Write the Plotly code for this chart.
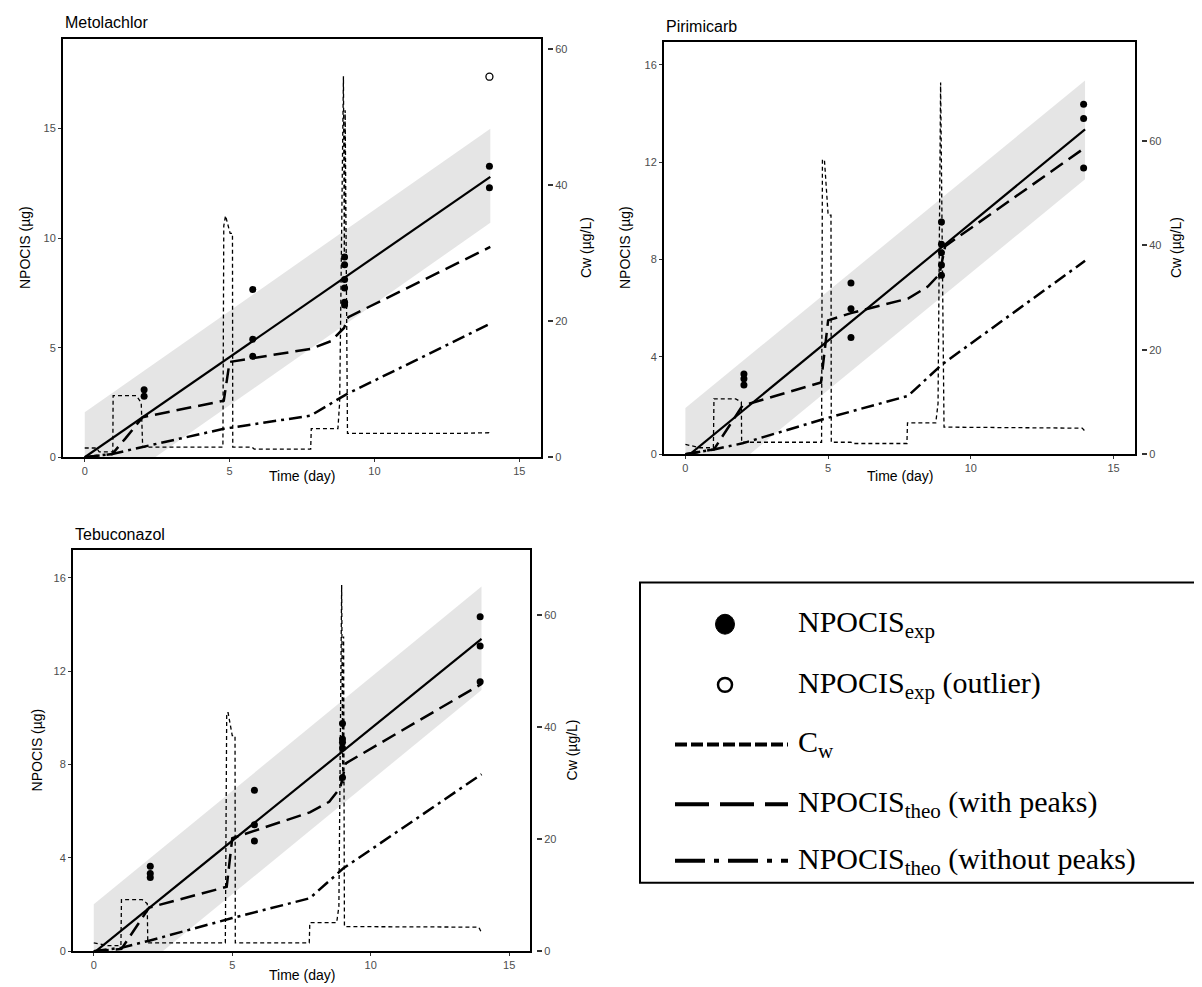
import plotly.graph_objects as go

W, H = 1202, 987

# ---------------- data ----------------
panel_names = ["Metolachlor", "Pirimicarb", "Tebuconazol"]

# Metolachlor
met_exp_t = [2.05, 2.05, 5.8, 5.8, 5.8, 8.97, 8.97, 8.97, 8.97, 8.97, 8.97, 13.97, 13.97]
met_exp_y = [3.08, 2.79, 7.66, 5.39, 4.61, 9.14, 8.79, 8.11, 7.73, 7.08, 6.95, 13.28, 12.30]
met_out_t = [13.97]
met_out_y = [17.37]
met_fit_t = [0, 14]
met_fit_y = [0.0, 12.8]
met_band_lo = [-2.25, 10.7]
met_band_hi = [2.05, 15.0]
met_peak_t = [0, 0.95, 1.4, 2.0, 4.8, 5.0, 7.8, 8.5, 8.95, 9.1, 14]
met_peak_y = [0, 0.15, 0.85, 1.83, 2.58, 4.35, 4.95, 5.3, 5.9, 6.4, 9.6]
met_nopeak_t = [0, 0.95, 2.0, 4.8, 7.8, 9.0, 14]
met_nopeak_y = [0, 0.15, 0.47, 1.3, 1.9, 2.85, 6.1]
met_cw_t = [0, 0.4, 0.5, 0.97, 0.98, 1.78, 1.95, 2.0, 4.77, 4.8, 4.86, 5.02, 5.1, 5.11, 5.77, 5.85,
            7.8, 7.82, 8.74, 8.8, 8.93, 8.96, 8.99, 9.07, 12.7, 13.95, 14.0]
met_cw_y = [1.36, 1.36, 0.8, 0.8, 9.05, 9.05, 8.0, 1.5, 1.5, 34.0, 35.5, 32.9, 32.9, 1.5, 1.5, 1.2,
            1.2, 4.2, 4.2, 8.1, 56.0, 30.0, 51.0, 3.5, 3.5, 3.6, 3.2]

# Pirimicarb
pir_exp_t = [2.05, 2.05, 2.05, 5.8, 5.8, 5.8, 8.97, 8.97, 8.97, 8.97, 8.97, 13.95, 13.95, 13.95]
pir_exp_y = [3.3, 3.1, 2.85, 7.04, 5.98, 4.8, 9.54, 8.63, 8.28, 7.78, 7.36, 14.38, 13.8, 11.76]
pir_out_t = []
pir_out_y = []
pir_fit_t = [0, 14]
pir_fit_y = [-0.15, 13.35]
pir_band_lo = [-2.17, 11.3]
pir_band_hi = [1.9, 15.36]
pir_peak_t = [0, 1.0, 2.0, 4.75, 5.0, 5.8, 7.8, 8.5, 8.9, 9.1, 14]
pir_peak_y = [0, 0.2, 2.0, 2.95, 5.5, 5.8, 6.4, 6.9, 7.4, 8.55, 12.6]
pir_nopeak_t = [0, 1.0, 2.0, 5.0, 7.8, 9.0, 14]
pir_nopeak_y = [0, 0.2, 0.45, 1.5, 2.4, 3.7, 7.95]
pir_cw_t = [0, 0.5, 0.98, 1.0, 1.76, 1.96, 1.97, 4.77, 4.8, 4.87, 5.0, 5.1, 5.11, 5.8, 5.85,
            7.76, 7.78, 8.77, 8.85, 8.94, 9.06, 13.9, 14.0]
pir_cw_y = [1.9, 1.25, 1.25, 10.6, 10.6, 10.0, 2.3, 2.3, 56.4, 56.4, 45.8, 45.8, 2.3, 2.3, 2.06,
            2.06, 6.0, 6.0, 9.7, 71.2, 5.2, 5.0, 4.4]

# Tebuconazol
teb_exp_t = [2.04, 2.04, 2.04, 5.8, 5.8, 5.8, 8.98, 8.98, 8.98, 8.98, 8.98, 13.95, 13.95, 13.95]
teb_exp_y = [3.64, 3.33, 3.16, 6.90, 5.42, 4.72, 9.75, 9.09, 8.95, 8.71, 7.44, 14.33, 13.07, 11.54]
teb_out_t = []
teb_out_y = []
teb_fit_t = [0, 14]
teb_fit_y = [-0.07, 13.38]
teb_band_lo = [-2.42, 11.19]
teb_band_hi = [2.01, 15.62]
teb_peak_t = [0, 1.0, 2.0, 4.8, 5.0, 7.8, 8.5, 8.9, 9.1, 14]
teb_peak_y = [0, 0.1, 1.87, 2.76, 4.84, 5.95, 6.4, 7.0, 8.05, 11.45]
teb_nopeak_t = [0, 1.0, 2.0, 5.0, 7.8, 9.0, 14]
teb_nopeak_y = [0, 0.15, 0.45, 1.42, 2.27, 3.54, 7.58]
teb_cw_t = [0, 0.5, 0.98, 1.0, 1.75, 1.93, 1.95, 4.75, 4.8, 4.85, 5.0, 5.1, 5.11, 7.78, 7.8,
            8.77, 8.85, 8.95, 8.99, 9.02, 9.05, 13.9, 14.0]
teb_cw_y = [1.5, 1.0, 1.0, 9.2, 9.2, 8.5, 1.5, 1.5, 42.6, 42.6, 38.5, 38.5, 1.5, 1.5, 5.1,
            5.1, 8.0, 65.4, 30.0, 56.2, 4.4, 4.3, 3.3]

left_range_top = [19.1, 16.95, 17.2]
right_range_top = [61.5, 79.0, 71.7]
left_dtick = [5, 4, 4]

legend_labels = ["NPOCIS<sub>exp</sub>", "NPOCIS<sub>exp</sub> (outlier)", "C<sub>w</sub>",
                 "NPOCIS<sub>theo</sub> (with peaks)", "NPOCIS<sub>theo</sub> (without peaks)"]

# ---------------- layout geometry (pixels) ----------------
# frame left, right, top, bottom; right axis position; title positions
boxes = [
    dict(l=55, r=533, t=31, b=452, pos=539, ttl_y=15, xt_y=471, yt_x=17, rt_x=578),
    dict(l=656, r=1127, t=34, b=449, pos=1133, ttl_y=19, xt_y=471, yt_x=617, rt_x=1168),
    dict(l=65, r=522, t=545, b=949, pos=528, ttl_y=530, xt_y=973, yt_x=29, rt_x=564),
]


def px(x):
    return x / W


def py(y):
    return 1 - y / H


data = [
    (met_exp_t, met_exp_y, met_out_t, met_out_y, met_fit_t, met_fit_y, met_band_lo, met_band_hi,
     met_peak_t, met_peak_y, met_nopeak_t, met_nopeak_y, met_cw_t, met_cw_y),
    (pir_exp_t, pir_exp_y, pir_out_t, pir_out_y, pir_fit_t, pir_fit_y, pir_band_lo, pir_band_hi,
     pir_peak_t, pir_peak_y, pir_nopeak_t, pir_nopeak_y, pir_cw_t, pir_cw_y),
    (teb_exp_t, teb_exp_y, teb_out_t, teb_out_y, teb_fit_t, teb_fit_y, teb_band_lo, teb_band_hi,
     teb_peak_t, teb_peak_y, teb_nopeak_t, teb_nopeak_y, teb_cw_t, teb_cw_y),
]

fig = go.Figure()
layout = {}
annotations = []
tick_font = dict(family="Liberation Sans, Arial", size=11, color="#4D4D4D")
lab_font = dict(family="Liberation Sans, Arial", size=14, color="black")

for i, (et, ey, ot, oy, ft, fy, blo, bhi, pt, pyv, nt, ny, ct, cy) in enumerate(data):
    bx = boxes[i]
    xa = "x" if i == 0 else "x%d" % (i + 1)
    yl = "y" if i == 0 else "y%d" % (2 * i + 1)
    yr = "y%d" % (2 * i + 2)

    # ribbon
    fig.add_trace(go.Scatter(x=ft, y=blo, mode="lines", line=dict(width=0, color="#E5E5E5"),
                             xaxis=xa, yaxis=yl, showlegend=False, hoverinfo="skip"))
    fig.add_trace(go.Scatter(x=ft, y=bhi, mode="lines", line=dict(width=0, color="#E5E5E5"),
                             fill="tonexty", fillcolor="#E5E5E5",
                             xaxis=xa, yaxis=yl, showlegend=False, hoverinfo="skip"))
    # fit
    fig.add_trace(go.Scatter(x=ft, y=fy, mode="lines", line=dict(color="black", width=2.2),
                             xaxis=xa, yaxis=yl, showlegend=False))
    # theo with peaks
    fig.add_trace(go.Scatter(x=pt, y=pyv, mode="lines",
                             line=dict(color="black", width=2.5, dash="15px,7px"),
                             xaxis=xa, yaxis=yl, showlegend=False))
    # theo without peaks
    fig.add_trace(go.Scatter(x=nt, y=ny, mode="lines",
                             line=dict(color="black", width=2.5, dash="13px,5px,3px,5px"),
                             xaxis=xa, yaxis=yl, showlegend=False))
    # experimental points
    fig.add_trace(go.Scatter(x=et, y=ey, mode="markers", marker=dict(color="black", size=7),
                             xaxis=xa, yaxis=yl, showlegend=False))
    if ot:
        fig.add_trace(go.Scatter(x=ot, y=oy, mode="markers",
                                 marker=dict(color="white", size=7, line=dict(color="black", width=1.3)),
                                 xaxis=xa, yaxis=yl, showlegend=False))
    # Cw on secondary axis
    fig.add_trace(go.Scatter(x=ct, y=cy, mode="lines",
                             line=dict(color="black", width=1.3, dash="4px,3px"),
                             xaxis=xa, yaxis=yr, showlegend=False))

    xkey = "xaxis" if i == 0 else "xaxis%d" % (i + 1)
    ylkey = "yaxis" if i == 0 else "yaxis%d" % (2 * i + 1)
    yrkey = "yaxis%d" % (2 * i + 2)
    layout[xkey] = dict(domain=[px(bx["l"]), px(bx["r"])], anchor=yl, range=[-0.75, 15.75],
                        dtick=5, tick0=0, showline=True, mirror=True, linewidth=2, linecolor="black",
                        ticks="outside", ticklen=3, tickcolor="#333", tickfont=tick_font,
                        showgrid=False, zeroline=False)
    layout[ylkey] = dict(domain=[py(bx["b"]), py(bx["t"])], anchor=xa, range=[0, left_range_top[i]],
                         dtick=left_dtick[i], tick0=0, showline=True, mirror=True, linewidth=2,
                         linecolor="black", ticks="outside", ticklen=3, tickcolor="#333",
                         tickfont=tick_font, showgrid=False, zeroline=False)
    layout[yrkey] = dict(overlaying=yl, side="right", anchor="free", position=px(bx["pos"]),
                         range=[0, right_range_top[i]], dtick=20, tick0=0, showline=False,
                         ticks="outside", ticklen=5, tickwidth=1.5, tickcolor="#333",
                         tickfont=tick_font, showgrid=False, zeroline=False)

    annotations += [
        dict(x=px(bx["l"]), y=py(bx["ttl_y"]), xref="paper", yref="paper", text=panel_names[i],
             showarrow=False, xanchor="left", yanchor="middle",
             font=dict(family="Liberation Sans, Arial", size=16, color="black")),
        dict(x=px((bx["l"] + bx["r"]) / 2), y=py(bx["xt_y"]), xref="paper", yref="paper",
             text="Time (day)", showarrow=False, xanchor="center", yanchor="middle", font=lab_font),
        dict(x=px(bx["yt_x"]), y=py((bx["t"] + bx["b"]) / 2), xref="paper", yref="paper",
             text="NPOCIS (µg)", textangle=-90, showarrow=False, xanchor="center", yanchor="middle",
             font=lab_font),
        dict(x=px(bx["rt_x"]), y=py((bx["t"] + bx["b"]) / 2), xref="paper", yref="paper",
             text="Cw (µg/L)", textangle=-90, showarrow=False, xanchor="center", yanchor="middle",
             font=lab_font),
    ]

# ---------------- hand-drawn legend box ----------------
leg_l, leg_t, leg_r, leg_b = 632, 578, 1199, 880
row_y = [620, 681, 741, 801, 858]
sym_x, line_x0, line_x1, text_x = 717, 667, 780, 788

shapes = [dict(type="rect", xref="paper", yref="paper", x0=px(leg_l), x1=px(leg_r),
               y0=py(leg_b), y1=py(leg_t), line=dict(color="black", width=2))]
# filled & open circles
shapes.append(dict(type="circle", xref="paper", yref="paper", x0=px(sym_x - 9.5), x1=px(sym_x + 9.5),
                   y0=py(row_y[0] + 10), y1=py(row_y[0] - 10), fillcolor="black",
                   line=dict(color="black", width=1)))
shapes.append(dict(type="circle", xref="paper", yref="paper", x0=px(sym_x - 7), x1=px(sym_x + 7),
                   y0=py(row_y[1] + 7), y1=py(row_y[1] - 7), fillcolor="white",
                   line=dict(color="black", width=2.5)))
leg_dash = ["12px,4px", "34px,11px", "30px,9px,5px,9px"]
for k, d in enumerate(leg_dash):
    yy = row_y[k + 2]
    shapes.append(dict(type="line", xref="paper", yref="paper", x0=px(line_x0), x1=px(line_x1),
                       y0=py(yy), y1=py(yy), line=dict(color="black", width=4, dash=d)))

for k, lab in enumerate(legend_labels):
    annotations.append(dict(x=px(text_x), y=py(row_y[k]), xref="paper", yref="paper", text=lab,
                            showarrow=False, xanchor="left", yanchor="middle",
                            font=dict(family="Liberation Serif, Times New Roman", size=30,
                                      color="black")))

fig.update_layout(width=W, height=H, margin=dict(l=0, r=0, t=0, b=0),
                  plot_bgcolor="white", paper_bgcolor="white", showlegend=False,
                  annotations=annotations, shapes=shapes, **layout)

fig.write_html("out.html")
